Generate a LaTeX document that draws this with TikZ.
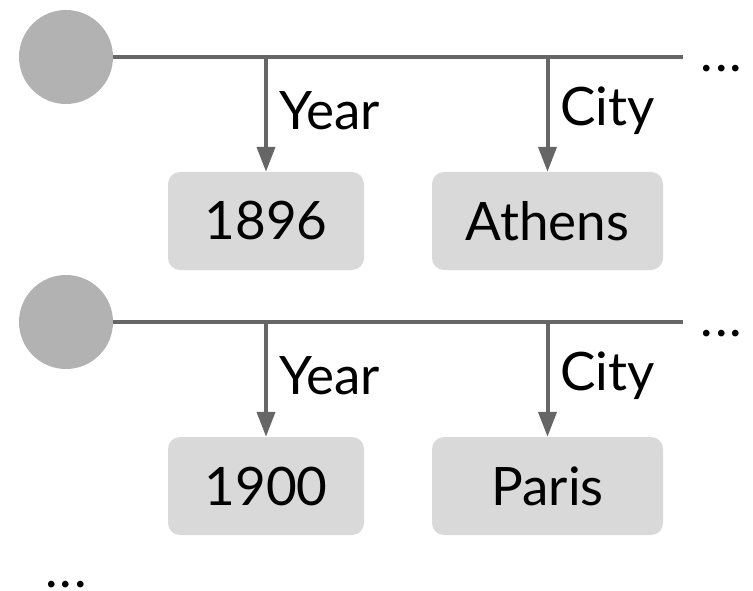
\documentclass[tikz,border=0pt]{standalone}
\usepackage{fontspec}
\setmainfont{Lato}
\usetikzlibrary{arrows.meta}

\begin{document}
\begin{tikzpicture}
  [x=1pt, y=-1pt,
   every node/.style={font=\fontsize{53}{64}\selectfont},
   rec/.style={circle, fill=black!30, minimum size=94pt, inner sep=0pt},
   val/.style={rounded corners=12pt, fill=black!15, minimum height=98pt, inner sep=0pt},
   more/.style={anchor=base, inner sep=0pt},
   key/.style={right, inner xsep=11pt, yshift=4pt},
   link/.style={draw=black!60, line width=4pt},
   attr/.style={link, -{Triangle[length=25pt, width=18pt]}}]
  \useasboundingbox (0, 0) rectangle (753, 591);

  \node[rec] (r1) at (66, 57) {};
  \node[val, minimum width=196pt] (y1) at (266, 221) {1896};
  \node[val, minimum width=231pt] (c1) at (547.5, 221) {Athens};
  \coordinate (e1) at (683, 57);
  \node[more] (d1) at (721.5, 71.5) {.\kern.04em.\kern.04em.};

  \node[rec] (r2) at (66, 322) {};
  \node[val, minimum width=196pt] (y2) at (266, 486) {1900};
  \node[val, minimum width=231pt] (c2) at (547.5, 486) {Paris};
  \coordinate (e2) at (683, 322);
  \node[more] (d2) at (721.5, 336.5) {.\kern.04em.\kern.04em.};

  \node[more] (dn) at (66, 587) {.\kern.04em.\kern.04em.};

  \foreach \r in {1,2} {
    \draw[link] (r\r) -- (e\r);
    \draw[attr] (y\r |- r\r) -- node[key] {Year} (y\r);
    \draw[attr] (c\r |- r\r) -- node[key] {City} (c\r);
  }
\end{tikzpicture}
\end{document}
